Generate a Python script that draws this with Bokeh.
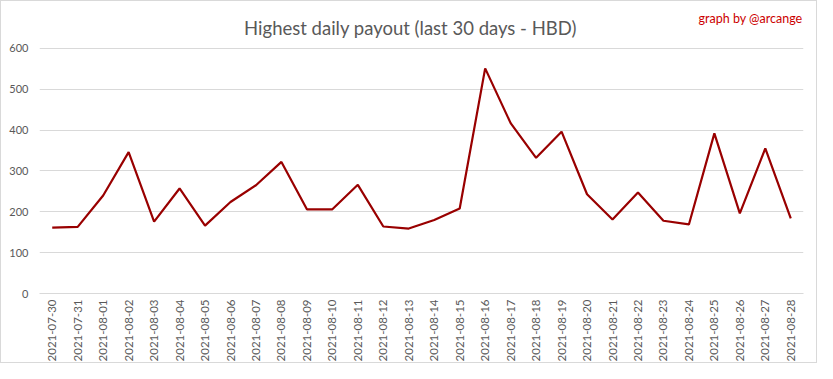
from math import pi
from bokeh.plotting import figure
from bokeh.models import FactorRange, Range1d, Label, FixedTicker
from bokeh.embed import file_html
from bokeh.resources import INLINE

dates = ["2021-07-30", "2021-07-31", "2021-08-01", "2021-08-02", "2021-08-03", "2021-08-04",
         "2021-08-05", "2021-08-06", "2021-08-07", "2021-08-08", "2021-08-09", "2021-08-10",
         "2021-08-11", "2021-08-12", "2021-08-13", "2021-08-14", "2021-08-15", "2021-08-16",
         "2021-08-17", "2021-08-18", "2021-08-19", "2021-08-20", "2021-08-21", "2021-08-22",
         "2021-08-23", "2021-08-24", "2021-08-25", "2021-08-26", "2021-08-27", "2021-08-28"]
payout = [161, 163, 240, 346, 176, 257, 166, 224, 265, 322, 206, 206, 266, 164, 159, 180,
          208, 551, 417, 332, 396, 243, 181, 247, 178, 169, 392, 196, 355, 184]
y_ticks = [0, 100, 200, 300, 400, 500, 600]

FONT = "Lato"
GREY = "#595959"
W, H = 817, 363
BL, BR, BT, BB = 38, 15, 3, 70
TOP600 = 47                      # canvas y of the 600 gridline
FRAME_H = H - BT - BB
Y_END = 600 * FRAME_H / (H - BB - TOP600)   # frame extends above 600 to hold the titles

p = figure(x_range=FactorRange(*dates, range_padding=0), y_range=Range1d(0, Y_END),
           width=W, height=H, output_backend="svg", toolbar_location=None,
           min_border_left=BL, min_border_right=BR, min_border_top=BT, min_border_bottom=BB)
p.styles = {"border": "1px solid #d9d9d9", "box-sizing": "border-box"}
p.outline_line_color = None
p.background_fill_color = "white"
p.border_fill_color = "white"

p.line(dates, payout, line_color="#990000", line_width=2.2)

p.yaxis.ticker = FixedTicker(ticks=y_ticks)
for ax in (p.xaxis, p.yaxis):
    ax.axis_line_color = None
    ax.major_tick_line_color = None
    ax.minor_tick_line_color = None
    ax.major_tick_out = 0
    ax.major_tick_in = 0
    ax.minor_tick_out = 0
    ax.minor_tick_in = 0
    ax.major_label_text_color = GREY
    ax.major_label_text_font = FONT
p.yaxis.major_label_text_font_size = "11px"
p.xaxis.major_label_text_font_size = "11.5px"
p.xaxis.axis_line_color = "#d9d9d9"
p.xaxis.major_label_orientation = pi / 2
p.xaxis.major_label_standoff = 6
p.yaxis.major_label_standoff = 11
p.xgrid.grid_line_color = None
p.ygrid.grid_line_color = "#d9d9d9"

# screen units are measured from the frame's lower-left corner
p.add_layout(Label(x=409 - BL, y=FRAME_H + BT - 27, x_units="screen", y_units="screen",
                   text="Highest daily payout (last 30 days - HBD)", text_font=FONT,
                   text_font_size="18.5px", text_color=GREY, text_align="center",
                   text_baseline="alphabetic"))
p.add_layout(Label(x=W - BR - 1 - BL, y=FRAME_H + BT - 18, x_units="screen", y_units="screen",
                   text="graph by @arcange", text_font=FONT, text_font_size="12.5px",
                   text_color="#cc0000", text_align="right", text_baseline="alphabetic"))

open("out.html", "w").write(file_html(p, INLINE))
